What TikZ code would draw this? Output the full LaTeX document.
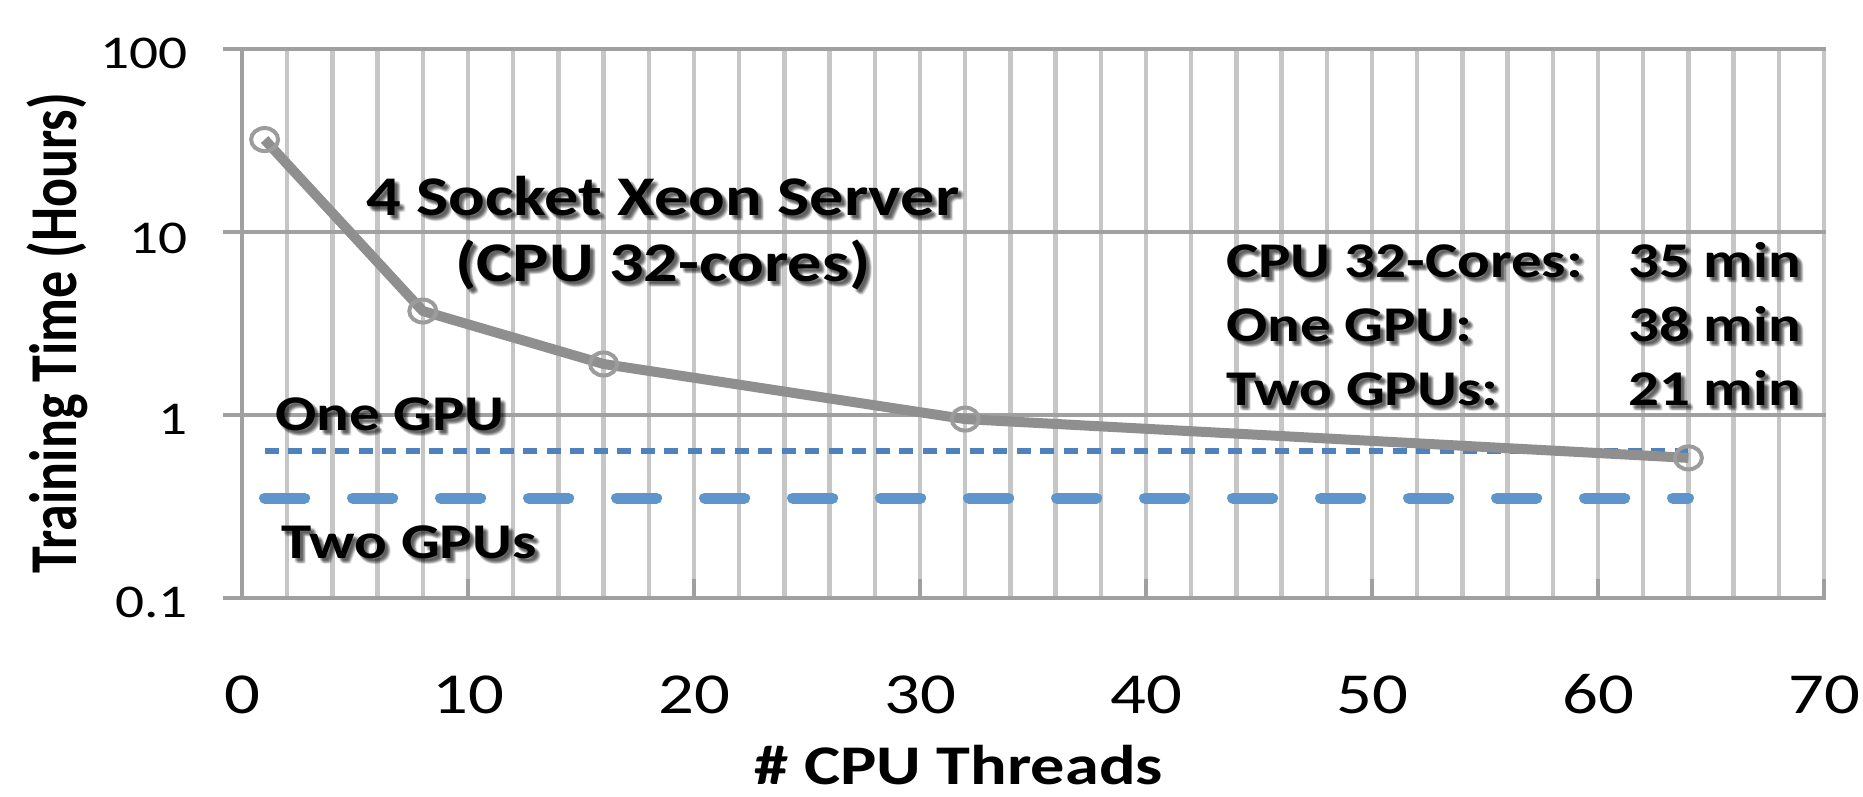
\documentclass[tikz,border=0pt]{standalone}
\usepackage{fontspec}
\setmainfont{Carlito}[FakeStretch=1.22]
\newfontfamily\titlefont{Carlito}
\usetikzlibrary{calc}

\definecolor{gridmajor}{HTML}{A0A0A0}
\definecolor{gridminor}{HTML}{C6C6C6}
\definecolor{cpuline}{HTML}{8F8F8F}
\definecolor{cpumark}{HTML}{9C9C9C}
\definecolor{gpuone}{HTML}{4F81BD}
\definecolor{gputwo}{HTML}{5E95CD}

% label with a soft drop shadow: name, position, anchor, style, text
\newcommand\shadowlabel[5]{%
  \foreach \dx/\dy [count=\i] in {2/3,3/4,4/3,4/5,5/4,3/2,5/6,6/5,3/5,5/3}
    \node[#4, anchor=#3, text=black, opacity=0.09] (#1-sh\i) at ($(#2)+(\dx,\dy)$) {#5};
  \node[#4, anchor=#3] (#1) at (#2) {#5};
}

\begin{document}
\begin{tikzpicture}[x=1pt, y=-1pt,
  declare function={px(\t)=242+22.6*\t; py(\v)=598-183*(log10(\v)+1);},
  minorgrid/.style={draw=gridminor, line width=4.5pt},
  majorgrid/.style={draw=gridmajor, line width=4.5pt},
  lbl/.style={font=\bfseries\fontsize{50}{60}\selectfont, inner sep=0pt},
  biglbl/.style={font=\bfseries\fontsize{56}{66}\selectfont, inner sep=0pt},
  ylab/.style={font=\fontsize{47}{56}\selectfont, inner sep=0pt, anchor=base east},
  xlab/.style={font=\fontsize{58}{68}\selectfont, inner sep=0pt, anchor=base},
  cpuseries/.style={draw=cpuline, line width=10pt, line join=round},
  cpumarker/.style={draw=cpumark, line width=4pt},
  onegpu/.style={draw=gpuone, line width=6pt, dash pattern=on 14pt off 9.5pt},
  twogpu/.style={draw=gputwo, line width=11pt, line cap=round, dash pattern=on 40pt off 48pt}
]
\fill[white] (0,0) rectangle (1863,796);
\useasboundingbox (0,0) rectangle (1863,796);

% vertical grid lines every 2 threads
\foreach \k in {1,...,35}
  \draw[minorgrid] ({px(2*\k)},49) -- ({px(2*\k)},598);
\draw[majorgrid] ({px(0)},49) -- ({px(0)},598);
% major ticks on the horizontal axis
\foreach \t in {10,20,...,70}
  \draw[majorgrid] ({px(\t)},579) -- ({px(\t)},598);
% horizontal grid lines (one per decade)
\foreach \yy in {49,232,415,598}
  \draw[majorgrid] (223,\yy) -- (1826,\yy);

% axis labels
\node[ylab] (y100) at (188,68) {100};
\node[ylab] (y10) at (188,253) {10};
\node[ylab] (y1) at (188,434) {1};
\node[ylab] (y01) at (188,617) {0.1};
\foreach \t in {0,10,...,70}
  \node[xlab] (x\t) at ({px(\t)},713) {\t};

\node[biglbl, anchor=base] (xtitle) at (959,784) {\# CPU Threads};
\node[font=\titlefont\bfseries\fontsize{54}{60}\selectfont, inner sep=0pt, anchor=base, rotate=90] (ytitle) at (76,333)
  {\scalebox{1}[1.24]{Training Time (Hours)}};

% GPU reference lines
\coordinate (g1a) at ({px(1)},451);
\coordinate (g1b) at ({px(64)},451);
\coordinate (g2a) at ({px(1)},498);
\coordinate (g2b) at ({px(64)},498);
\draw[onegpu] (g1a) -- (g1b);
\draw[twogpu] (g2a) -- (g2b);

% CPU series
\coordinate (c1) at ({px(1)},{py(32)});
\coordinate (c8) at ({px(8)},{py(3.7)});
\coordinate (c16) at ({px(16)},{py(1.9)});
\coordinate (c32) at ({px(32)},{py(0.95)});
\coordinate (c64) at ({px(64)},{py(0.583)});
\draw[cpuseries] (c1) -- (c8) -- (c16) -- (c32) -- (c64);
\foreach \c in {c1,c8,c16,c32,c64}
  \draw[cpumarker] (\c) ellipse [x radius=13.5pt, y radius=11.5pt];

% annotations
\shadowlabel{xeon}{366,215}{base west}{biglbl}{4 Socket Xeon Server}
\shadowlabel{xeoncores}{455,281}{base west}{biglbl}{(CPU 32-cores)}
\shadowlabel{onegpulbl}{275,430}{base west}{lbl}{One GPU}
\shadowlabel{twogpulbl}{281,558}{base west}{lbl}{Two GPUs}
\shadowlabel{cpukey}{1226,277}{base west}{lbl}{CPU 32-Cores:}
\shadowlabel{onekey}{1226,341}{base west}{lbl}{One GPU:}
\shadowlabel{twokey}{1226,405}{base west}{lbl}{Two GPUs:}
\shadowlabel{cpuval}{1628,277}{base west}{lbl}{35 min}
\shadowlabel{oneval}{1628,341}{base west}{lbl}{38 min}
\shadowlabel{twoval}{1628,405}{base west}{lbl}{21 min}
\end{tikzpicture}
\end{document}
